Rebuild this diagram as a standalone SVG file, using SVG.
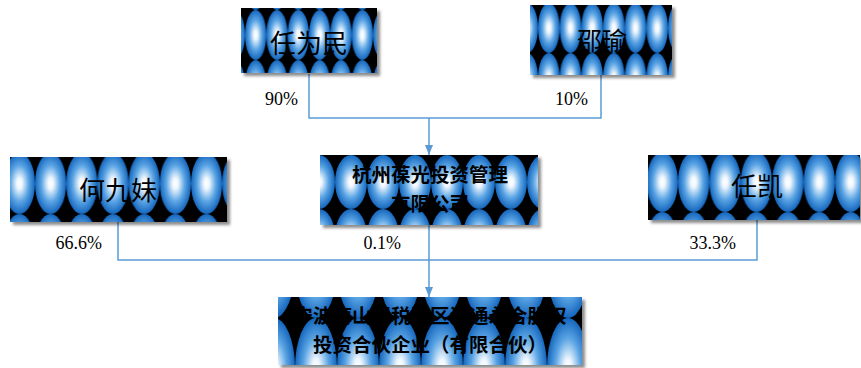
<svg xmlns="http://www.w3.org/2000/svg" width="861" height="368" viewBox="0 0 861 368">
<style>
.cn{font-family:"Noto Sans CJK SC","Noto Sans",sans-serif;fill:#000;text-anchor:middle}
.nm{font-size:26px}
.co{font-size:19.5px;font-weight:bold}
.pct{font-family:"Liberation Serif",serif;font-size:18px;fill:#000}
.ln{fill:none;stroke:#5b9bd5;stroke-width:1.5}
</style>
<defs>
<radialGradient id="rg" cx="0.5" cy="0.5" r="0.5">
<stop offset="0" stop-color="#ffffff"/>
<stop offset="0.18" stop-color="#eef6fd"/>
<stop offset="0.6" stop-color="#5aa4e4"/>
<stop offset="1" stop-color="#1566bd"/>
</radialGradient>
<filter id="sh" x="-10%" y="-10%" width="125%" height="130%">
<feDropShadow dx="3" dy="3" stdDeviation="1.5" flood-color="#000" flood-opacity="0.45"/>
</filter>
<pattern id="p1" patternUnits="userSpaceOnUse" x="245" y="10" width="21.33" height="50"><rect width="21.33" height="50" fill="#000"/><ellipse cx="10.67" cy="25" rx="10.67" ry="25" fill="url(#rg)"/></pattern>
<pattern id="p2" patternUnits="userSpaceOnUse" x="538" y="3" width="21.67" height="50"><rect width="21.67" height="50" fill="#000"/><ellipse cx="10.83" cy="25" rx="10.83" ry="25" fill="url(#rg)"/></pattern>
<pattern id="p3" patternUnits="userSpaceOnUse" x="35" y="153" width="31.2" height="61"><rect width="31.2" height="61" fill="#000"/><ellipse cx="15.6" cy="30.5" rx="15.6" ry="30.5" fill="url(#rg)"/></pattern>
<pattern id="p4" patternUnits="userSpaceOnUse" x="335" y="155" width="32" height="54"><rect width="32" height="54" fill="#000"/><ellipse cx="16" cy="27" rx="16" ry="27" fill="url(#rg)"/></pattern>
<pattern id="p5" patternUnits="userSpaceOnUse" x="678" y="152" width="31.4" height="60"><rect width="31.4" height="60" fill="#000"/><ellipse cx="15.7" cy="30" rx="15.7" ry="30" fill="url(#rg)"/></pattern>
<pattern id="p6" patternUnits="userSpaceOnUse" x="295" y="318" width="42" height="100"><rect width="42" height="100" fill="#000"/><ellipse cx="21" cy="50" rx="21" ry="50" fill="url(#rg)"/></pattern>
<marker id="ar" viewBox="0 0 10 8" refX="10" refY="4" markerWidth="10" markerHeight="8" markerUnits="userSpaceOnUse" orient="auto">
<path d="M0,0 L10,4 L0,8 z" fill="#5b9bd5"/>
</marker>
</defs>

<g id="connectors">
<polyline class="ln" points="309,74 309,118 601,118 601,75"/>
<line class="ln" x1="429" y1="118" x2="429" y2="155" marker-end="url(#ar)"/>
<polyline class="ln" points="118,222 118,260 757,260 757,220"/>
<line class="ln" x1="429" y1="225" x2="429" y2="297" marker-end="url(#ar)"/>
</g>

<g id="labels">
<text class="pct" x="298" y="105" text-anchor="end">90%</text>
<text class="pct" x="588" y="105" text-anchor="end">10%</text>
<text class="pct" x="102" y="249" text-anchor="end">66.6%</text>
<text class="pct" x="401" y="249" text-anchor="end">0.1%</text>
<text class="pct" x="736" y="249" text-anchor="end">33.3%</text>
</g>

<g id="node-renweimin">
<rect x="241" y="8" width="136" height="65" fill="#000" filter="url(#sh)"/>
<rect x="241" y="8" width="136" height="65" fill="url(#p1)"/>
<text class="cn nm" x="309" y="53">任为民</text>
</g>

<g id="node-shao">
<rect x="530" y="5" width="142" height="70" fill="#000" filter="url(#sh)"/>
<rect x="530" y="5" width="142" height="70" fill="url(#p2)"/>
<text class="cn nm" x="602" y="50" style="font-size:25px">邵瑜</text>
</g>

<g id="node-hejiumei">
<rect x="10" y="157" width="217" height="65" fill="#000" filter="url(#sh)"/>
<rect x="10" y="157" width="217" height="65" fill="url(#p3)"/>
<text class="cn nm" x="118" y="200">何九妹</text>
</g>

<g id="node-hangzhou">
<rect x="320" y="155" width="218" height="70" fill="#000" filter="url(#sh)"/>
<rect x="320" y="155" width="218" height="70" fill="url(#p4)"/>
<text class="cn co" x="430" y="182">杭州葆光投资管理</text>
<text class="cn co" x="430" y="210.5">有限公司</text>
</g>

<g id="node-renkai">
<rect x="648" y="155" width="212" height="65" fill="#000" filter="url(#sh)"/>
<rect x="648" y="155" width="212" height="65" fill="url(#p5)"/>
<text class="cn nm" x="757" y="196">任凯</text>
</g>

<g id="node-fund">
<rect x="278" y="297" width="304" height="68" fill="#000" filter="url(#sh)"/>
<rect x="278" y="297" width="304" height="68" fill="url(#p6)"/>
<text class="cn co" x="430" y="323">宁波梅山保税港区汇通永合股权</text>
<text class="cn co" x="430" y="351.5">投资合伙企业（有限合伙）</text>
</g>
</svg>
